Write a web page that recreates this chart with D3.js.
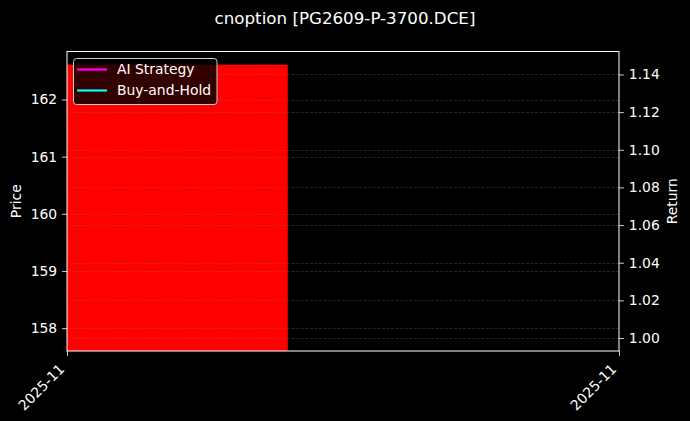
<!DOCTYPE html>
<html><head><meta charset="utf-8">
<script src="https://cdn.jsdelivr.net/npm/d3@7"></script>
<style>html,body{margin:0;padding:0;background:#000;}svg{display:block;font-family:"DejaVu Sans",sans-serif;}</style>
</head><body>
<svg id="c" width="690" height="421"></svg>
<script>
const title = "cnoption [PG2609-P-3700.DCE]";
const xTickPositions = [0, 1];
const xTickLabels = ["2025-11", "2025-11"];
const barStart = [0];
const barEnd = [0.4];
const barPrice = [162.61];
const priceDomain = [157.6, 162.84];
const returnDomain = [0.9931, 1.1522];
const priceTicks = [158, 159, 160, 161, 162];
const returnTicks = [1.00, 1.02, 1.04, 1.06, 1.08, 1.10, 1.12, 1.14];
const legendNames = ["AI Strategy", "Buy-and-Hold"];
const legendColors = ["#ff00ff", "#00ffff"];

const svg = d3.select("#c");
const L = 67, R = 619, T = 51.5, B = 351;
const x = d3.scaleLinear().domain([0, 1]).range([L, R]);
const yP = d3.scaleLinear().domain(priceDomain).range([B, T]);
const yR = d3.scaleLinear().domain(returnDomain).range([B, T]);

svg.append("rect").attr("width", 690).attr("height", 421).attr("fill", "#000");

// bars
svg.selectAll("rect.bar").data(barPrice).join("rect").attr("class", "bar")
  .attr("x", (d, i) => x(barStart[i]))
  .attr("width", (d, i) => x(barEnd[i]) - x(barStart[i]))
  .attr("y", d => yP(d))
  .attr("height", d => B - yP(d))
  .attr("fill", "#ff0000");

// grids
const g = svg.append("g");
g.selectAll("line.gp").data(priceTicks).join("line").attr("class", "gp")
  .attr("x1", L).attr("x2", R).attr("y1", d => Math.round(yP(d)) + 0.5).attr("y2", d => Math.round(yP(d)) + 0.5)
  .attr("stroke", "#808080").attr("stroke-opacity", 0.35).attr("stroke-width", 0.8).attr("stroke-dasharray", "3,1.5");
g.selectAll("line.gr").data(returnTicks).join("line").attr("class", "gr")
  .attr("x1", L).attr("x2", R).attr("y1", d => Math.round(yR(d)) + 0.5).attr("y2", d => Math.round(yR(d)) + 0.5)
  .attr("stroke", "#808080").attr("stroke-opacity", 0.35).attr("stroke-width", 0.8).attr("stroke-dasharray", "3,1.5");

// axes
const fs = "13.9px";
const leftAx = svg.append("g").attr("transform", `translate(${L},0)`)
  .call(d3.axisLeft(yP).tickValues(priceTicks).tickFormat(d3.format("d")).tickSize(4.9).tickPadding(4.9));
const rightAx = svg.append("g").attr("transform", `translate(${R},0)`)
  .call(d3.axisRight(yR).tickValues(returnTicks).tickFormat(d3.format(".2f")).tickSize(4.9).tickPadding(4.9));
const botAx = svg.append("g").attr("transform", `translate(0,${B})`)
  .call(d3.axisBottom(x).tickValues(xTickPositions).tickFormat((d, i) => xTickLabels[i]).tickSize(4.9).tickPadding(4.9));
[leftAx, rightAx, botAx].forEach(a => {
  a.select(".domain").remove();
  a.selectAll(".tick line").attr("stroke", "#fff").attr("stroke-width", 0.8);
  a.selectAll(".tick text").attr("fill", "#fff").style("font-size", fs).style("font-family", "DejaVu Sans");
});
botAx.selectAll(".tick text")
  .attr("text-anchor", "end").attr("dy", null).attr("y", null)
  .attr("transform", "translate(-2.3,19.1) rotate(-45)");

// spines
svg.append("rect").attr("x", L).attr("y", T).attr("width", R - L).attr("height", B - T)
  .attr("fill", "none").attr("stroke", "#fff").attr("stroke-width", 1);

// labels
svg.append("text").attr("x", 345).attr("y", 24).attr("text-anchor", "middle")
  .attr("fill", "#fff").style("font-size", "16.7px").text(title);
svg.append("text").attr("transform", `translate(21,${(T + B) / 2}) rotate(-90)`).attr("text-anchor", "middle")
  .attr("fill", "#fff").style("font-size", fs).text("Price");
svg.append("text").attr("transform", `translate(677,${(T + B) / 2}) rotate(-90)`).attr("text-anchor", "middle")
  .attr("fill", "#fff").style("font-size", fs).text("Return");

// legend
const lg = svg.append("g");
lg.append("rect").attr("x", 73.5).attr("y", 58.5).attr("width", 143.5).attr("height", 46).attr("rx", 3)
  .attr("fill", "#000").attr("fill-opacity", 0.8).attr("stroke", "#cccccc").attr("stroke-width", 1);
legendNames.forEach((n, i) => {
  const yy = 69.5 + i * 21;
  lg.append("line").attr("x1", 77).attr("x2", 107).attr("y1", yy).attr("y2", yy)
    .attr("stroke", legendColors[i]).attr("stroke-width", 2.2);
  lg.append("text").attr("x", 117).attr("y", yy).attr("dy", "0.35em").attr("fill", "#fff")
    .style("font-size", fs).text(n);
});
</script>
</body></html>
